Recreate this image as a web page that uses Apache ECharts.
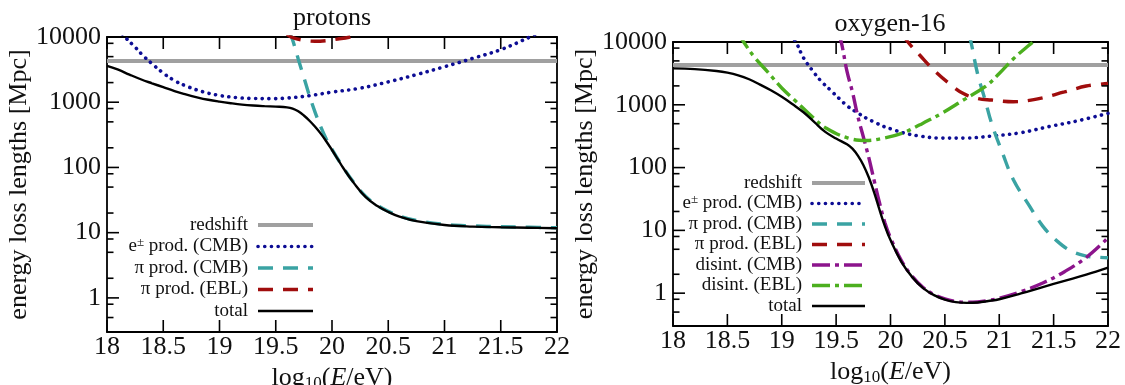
<!DOCTYPE html>
<html>
<head>
<meta charset="utf-8">
<script src="https://cdn.jsdelivr.net/npm/echarts@6/dist/echarts.min.js"></script>
<style>html,body{margin:0;padding:0;background:#fff}#c{width:1125px;height:385px}</style>
</head>
<body>
<div id="c"></div>
<script>
// ---------- DATA (energy loss lengths in Mpc vs log10(E/eV)) ----------
const titles = ['protons', 'oxygen-16'];
const xTickValues = [18, 18.5, 19, 19.5, 20, 20.5, 21, 21.5, 22];
const yTickValues = [1, 10, 100, 1000, 10000];
const yMinorValues = [0.5, 0.8, 2, 5, 8, 20, 50, 80, 200, 500, 800, 2000, 5000, 8000];
const xRange = [18, 22];
const yRange = [0.3, 10000];

// protons
const pRedshiftE = [18, 22];
const pRedshift  = [4300, 4300];
const pEpairE = [18.1, 18.16, 18.25, 18.32, 18.4, 18.5, 18.6, 18.7, 18.85, 19.0, 19.15, 19.3, 19.45, 19.6, 19.8, 20.0, 20.25, 20.5, 20.75, 21.0, 21.25, 21.5, 21.76, 21.85];
const pEpair  = [13500, 10000, 7000, 5200, 3900, 2800, 2150, 1780, 1450, 1270, 1180, 1140, 1135, 1160, 1260, 1430, 1640, 2050, 2650, 3500, 4700, 6400, 10000, 12000];
const pPiCmbE = [19.62, 19.65, 19.7, 19.75, 19.8, 19.85, 19.9, 19.95, 20.0, 20.1, 20.2, 20.3, 20.4, 20.5, 20.6, 20.75, 21.0, 21.25, 21.5, 21.75, 22.0];
const pPiCmb  = [12000, 9000, 4600, 2400, 1250, 700, 420, 270, 190, 100, 57, 36, 26.5, 21.3, 18, 15.4, 13.4, 12.7, 12.3, 12.1, 11.9];
const pPiEblE = [19.6, 19.65, 19.75, 19.85, 19.95, 20.05, 20.15, 20.2];
const pPiEbl  = [11000, 9800, 8900, 8600, 8800, 9300, 9900, 10600];
const pTotalE = [18.0, 18.1, 18.2, 18.3, 18.4, 18.5, 18.6, 18.7, 18.8, 18.9, 19.0, 19.1, 19.2, 19.3, 19.4, 19.5, 19.6, 19.65, 19.7, 19.75, 19.8, 19.85, 19.9, 19.95, 20.0, 20.05, 20.1, 20.2, 20.3, 20.4, 20.5, 20.6, 20.75, 21.0, 21.25, 21.5, 21.75, 22.0];
const pTotal  = [3600, 3150, 2650, 2250, 1950, 1700, 1480, 1320, 1190, 1090, 1020, 965, 920, 890, 870, 855, 835, 800, 725, 625, 520, 420, 330, 250, 185, 135, 98, 56, 35, 25.8, 20.8, 17.6, 15.0, 13.1, 12.4, 12.1, 11.9, 11.7];

// oxygen-16
const oRedshiftE = [18, 22];
const oRedshift  = [4300, 4300];
const oEpairE = [19.08, 19.13, 19.2, 19.28, 19.36, 19.45, 19.53, 19.61, 19.7, 19.78, 19.86, 19.94, 20.03, 20.11, 20.27, 20.47, 20.67, 20.93, 21.2, 21.46, 21.73, 22.0];
const oEpair  = [13000, 10000, 5600, 3550, 2400, 1700, 1250, 935, 740, 610, 520, 450, 400, 360, 318, 295, 295, 318, 360, 450, 560, 730];
const oPiCmbE = [20.72, 20.74, 20.8, 20.87, 20.93, 21.03, 21.13, 21.27, 21.4, 21.53, 21.66, 21.8, 21.9, 22.0];
const oPiCmb  = [13000, 10000, 3150, 1190, 505, 170, 64, 25.7, 11.7, 6.8, 4.7, 3.9, 3.75, 3.67];
const oPiEblE = [20.12, 20.16, 20.27, 20.4, 20.54, 20.67, 20.8, 20.93, 21.13, 21.33, 21.6, 21.8, 22.0];
const oPiEbl  = [13000, 10000, 6150, 3550, 2180, 1510, 1260, 1190, 1120, 1220, 1600, 1990, 2180];
const oDisCmbE = [19.52, 19.55, 19.6, 19.65, 19.7, 19.75, 19.8, 19.85, 19.9, 19.95, 20.0, 20.1, 20.2, 20.3, 20.4, 20.5, 20.6, 20.7, 20.8, 20.9, 21.0, 21.2, 21.4, 21.6, 21.8, 22.0];
const oDisCmb  = [14000, 9500, 3400, 1600, 650, 310, 145, 62, 27, 13, 7.6, 3.3, 1.85, 1.23, 0.95, 0.81, 0.74, 0.715, 0.725, 0.765, 0.83, 1.06, 1.45, 2.2, 3.7, 7.6];
const oDisEblE = [18.6, 18.65, 18.75, 18.87, 19.0, 19.12, 19.28, 19.41, 19.61, 19.78, 19.94, 20.11, 20.27, 20.47, 20.67, 20.87, 21.0, 21.13, 21.27, 21.32, 21.38];
const oDisEbl  = [14000, 10000, 5700, 3340, 1850, 1180, 645, 423, 295, 270, 295, 355, 480, 730, 1190, 1940, 3150, 5400, 8800, 10300, 13500];
const oTotalE = [18.0, 18.2, 18.4, 18.5, 18.6, 18.7, 18.8, 18.9, 19.0, 19.1, 19.2, 19.3, 19.4, 19.5, 19.6, 19.65, 19.7, 19.75, 19.8, 19.85, 19.9, 19.95, 20.0, 20.1, 20.2, 20.3, 20.4, 20.5, 20.6, 20.7, 20.8, 20.9, 21.0, 21.2, 21.4, 21.6, 21.8, 22.0];
const oTotal  = [3800, 3700, 3450, 3250, 2950, 2550, 2100, 1700, 1340, 1020, 760, 530, 370, 290, 235, 200, 155, 110, 70, 40, 21, 11.5, 7.0, 3.15, 1.8, 1.2, 0.93, 0.79, 0.72, 0.70, 0.71, 0.75, 0.80, 0.99, 1.25, 1.57, 1.97, 2.55];

const names = {
  redshift: 'redshift', epair: 'e± prod. (CMB)', piCmb: 'π prod. (CMB)', piEbl: 'π prod. (EBL)',
  disCmb: 'disint. (CMB)', disEbl: 'disint. (EBL)', total: 'total'
};

// ---------- STYLE ----------
const FONT = '"Liberation Serif", "DejaVu Serif", serif';
const TXT = '#111';
const styles = {
  redshift: {color: '#a0a0a0', width: 4, type: 'solid', cap: 'butt'},
  epair:    {color: '#0d0d94', width: 3.6, type: [0.1, 6.6], cap: 'round'},
  piCmb:    {color: '#3aa3a3', width: 3.4, type: [15, 10], cap: 'butt'},
  piEbl:    {color: '#a00d0d', width: 3.4, type: [15, 10], cap: 'butt'},
  disCmb:   {color: '#8c148c', width: 3.4, type: [18, 5, 4, 5], cap: 'butt'},
  disEbl:   {color: '#4caf1f', width: 3.4, type: [18, 5, 4, 5], cap: 'butt'},
  total:    {color: '#000000', width: 2.4, type: 'solid', cap: 'butt'}
};

const log10 = Math.log10;
const yMin = log10(yRange[0]), yMax = log10(yRange[1]);
const majorLog = yTickValues.map(log10);
const minorLog = yMinorValues.map(log10);

function pairs(E, V) { return E.map((e, i) => [e, log10(V[i])]); }

function axisLineStyle() { return {show: true, onZero: false, lineStyle: {color: '#000', width: 1.8}}; }

function xAxes(g, nameGap) {
  return [
    {gridIndex: g, type: 'value', min: xRange[0], max: xRange[1], interval: 0.5, position: 'bottom',
     axisLine: axisLineStyle(), splitLine: {show: false},
     axisTick: {show: false},
     axisLabel: {show: true, margin: 2, fontFamily: FONT, fontSize: 26, color: TXT},
     name: '{a|log}{s|10}{a|(}{i|E}{a|/eV)}', nameLocation: 'middle', nameGap: nameGap,
     nameTextStyle: {rich: {
       a: {fontFamily: FONT, fontSize: 26, color: TXT, lineHeight: 28},
       s: {fontFamily: FONT, fontSize: 17, color: TXT, lineHeight: 14, verticalAlign: 'bottom'},
       i: {fontFamily: FONT, fontSize: 26, color: TXT, lineHeight: 28, fontStyle: 'italic'}
     }}},
    {gridIndex: g, type: 'value', min: xRange[0], max: xRange[1], interval: 0.5, position: 'top',
     axisLine: axisLineStyle(), splitLine: {show: false}, axisTick: {show: false}, axisLabel: {show: false}}
  ];
}

function yAxes(g, nameGap) {
  const base = () => ({gridIndex: g, type: 'value', min: yMin, max: yMax, splitLine: {show: false},
    axisLine: axisLineStyle()});
  return [
    Object.assign(base(), {position: 'left', axisTick: {show: false},
      axisLabel: {show: true, customValues: majorLog, margin: 6, fontFamily: FONT, fontSize: 26, color: TXT,
        formatter: v => String(Math.round(Math.pow(10, v)))},
      name: 'energy loss lengths [Mpc]', nameLocation: 'middle', nameGap: nameGap,
      nameTextStyle: {fontFamily: FONT, fontSize: 26, color: TXT}}),
    Object.assign(base(), {position: 'right', axisTick: {show: false}, axisLabel: {show: false}})
  ];
}

// Tick marks drawn through the axes' own coordinate mapping (side: 0 bottom, 1 top, 2 left, 3 right)
function tickData() {
  const d = [];
  xTickValues.forEach(x => { d.push([x, yMin, 0, 12]); d.push([x, yMax, 1, 12]); });
  majorLog.forEach(y => { d.push([xRange[0], y, 2, 12]); d.push([xRange[1], y, 3, 12]); });
  minorLog.forEach(y => { d.push([xRange[0], y, 2, 6.5]); d.push([xRange[1], y, 3, 6.5]); });
  return d;
}
const dirs = [[0, -1], [0, 1], [1, 0], [-1, 0]];
function ticks(g) {
  return {
    type: 'custom', xAxisIndex: g * 2, yAxisIndex: g * 2, silent: true, clip: false, z: 5,
    dimensions: ['x', 'y', 'side', 'len'], encode: {x: 0, y: 1},
    data: tickData(),
    renderItem: (params, api) => {
      const p = api.coord([api.value(0), api.value(1)]);
      const dir = dirs[api.value(2)], len = api.value(3);
      return {type: 'line', silent: true,
        shape: {x1: p[0], y1: p[1], x2: p[0] + dir[0] * len, y2: p[1] + dir[1] * len},
        style: {stroke: '#000', lineWidth: 1.6}};
    }
  };
}

function mk(key, E, V, g) {
  const s = styles[key];
  return {
    type: 'line', name: names[key], xAxisIndex: g * 2, yAxisIndex: g * 2,
    data: pairs(E, V), symbol: 'none', showSymbol: false, smooth: 0.4,
    clip: true, silent: true, animation: false,
    lineStyle: {color: s.color, width: s.width, type: s.type, cap: s.cap},
    itemStyle: {color: s.color}, emphasis: {disabled: true}
  };
}

const series = [
  mk('redshift', pRedshiftE, pRedshift, 0),
  mk('epair', pEpairE, pEpair, 0),
  mk('piCmb', pPiCmbE, pPiCmb, 0),
  mk('piEbl', pPiEblE, pPiEbl, 0),
  mk('total', pTotalE, pTotal, 0),
  mk('redshift', oRedshiftE, oRedshift, 1),
  mk('epair', oEpairE, oEpair, 1),
  mk('piCmb', oPiCmbE, oPiCmb, 1),
  mk('piEbl', oPiEblE, oPiEbl, 1),
  mk('disCmb', oDisCmbE, oDisCmb, 1),
  mk('disEbl', oDisEblE, oDisEbl, 1),
  mk('total', oTotalE, oTotal, 1),
  ticks(0),
  ticks(1)
];

const legendFmt = n => n === names.epair ? '{t|e}{s|±}{t| prod. (CMB)}' : '{t|' + n + '}';
function legend(keys, right, top, gap, w) {
  return {
    data: keys.map(k => names[k]), orient: 'vertical', align: 'right', right: right, top: top,
    padding: 0, itemWidth: w, itemHeight: 10, itemGap: gap, selectedMode: false,
    itemStyle: {opacity: 0}, lineStyle: {width: 'inherit'},
    textStyle: {
      fontFamily: FONT, fontSize: 19, color: TXT, lineHeight: 20, padding: [0, 5, 0, 0],
      rich: {
        t: {fontFamily: FONT, fontSize: 19, color: TXT, lineHeight: 20},
        s: {fontFamily: FONT, fontSize: 13, color: TXT, lineHeight: 12, verticalAlign: 'top'}
      }
    },
    formatter: legendFmt
  };
}

const chart = echarts.init(document.getElementById('c'), null, {renderer: 'canvas'});
chart.setOption({
  animation: false,
  backgroundColor: '#fff',
  title: [
    {text: titles[0], left: 332, top: 5, textAlign: 'center', padding: 0,
     textStyle: {fontFamily: FONT, fontSize: 26, fontWeight: 'normal', color: TXT}},
    {text: titles[1], left: 890, top: 11, textAlign: 'center', padding: 0,
     textStyle: {fontFamily: FONT, fontSize: 26, fontWeight: 'normal', color: TXT}}
  ],
  grid: [
    {left: 107, top: 37, width: 450, height: 295, containLabel: false, outerBoundsMode: 'none'},
    {left: 673, top: 42, width: 435, height: 284, containLabel: false, outerBoundsMode: 'none'}
  ],
  xAxis: xAxes(0, 24).concat(xAxes(1, 22)),
  yAxis: yAxes(0, 68).concat(yAxes(1, 66)),
  legend: [
    legend(['redshift', 'epair', 'piCmb', 'piEbl', 'total'], 810, 215, 1.5, 55),
    legend(['redshift', 'epair', 'piCmb', 'piEbl', 'disCmb', 'disEbl', 'total'], 258, 173, 0.5, 53)
  ],
  series: series
});
</script>
</body>
</html>
